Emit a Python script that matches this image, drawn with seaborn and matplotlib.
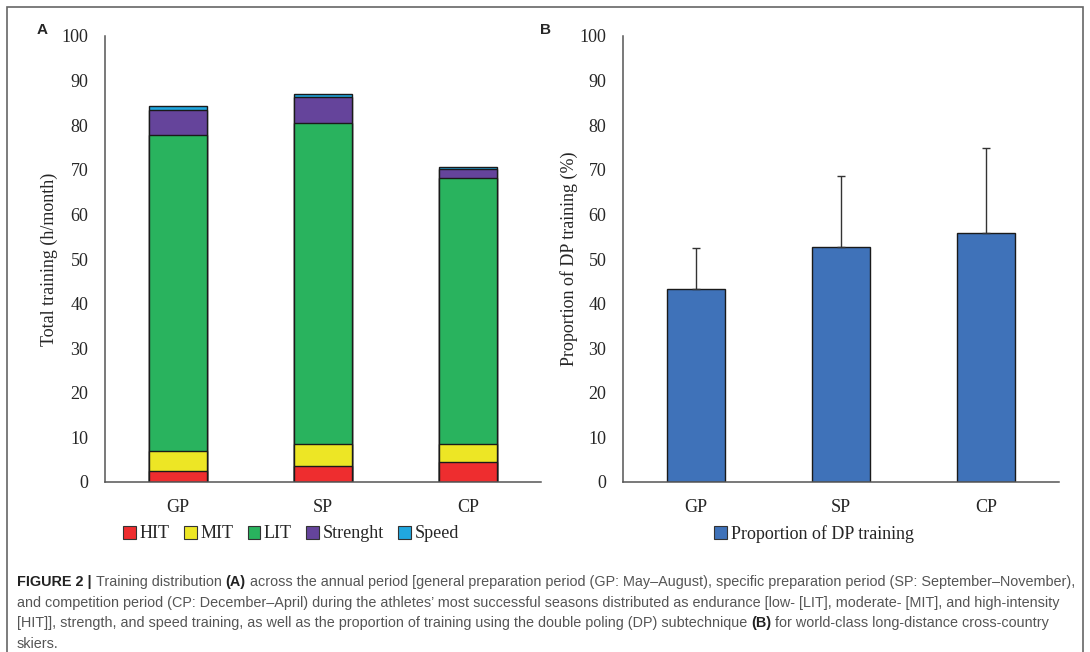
import matplotlib
matplotlib.use("Agg")
import matplotlib.pyplot as plt
import matplotlib.patches as mpatches
import numpy as np
import seaborn as sns

# ---- data -------------------------------------------------------------
periods = ["GP", "SP", "CP"]
components = ["HIT", "MIT", "LIT", "Strenght", "Speed"]
hit = [2.5, 3.5, 4.5]
mit = [4.4, 5.0, 4.1]
lit = [70.9, 72.0, 59.5]
strength = [5.6, 5.8, 2.0]
speed = [0.8, 0.8, 0.6]

dp_mean = [43.2, 52.8, 55.8]
dp_sd = [9.2, 15.9, 19.2]
dp_label = "Proportion of DP training"

yticks = list(range(0, 101, 10))

# ---- style ------------------------------------------------------------
sns.set_theme(style="white")
serif = ["Liberation Serif", "DejaVu Serif"]
cap_family = "Liberation Sans"
plt.rcParams["font.family"] = serif

comp_colors = ["#EE2D2F", "#EDE625", "#29B35E", "#65449B", "#20A7DF"]
dp_color = "#3F72B9"
spine_color = "#555555"
tick_fs = 13

W, H = 1090, 652
fig = plt.figure(figsize=(W / 100, H / 100), dpi=100)

def fx(px):
    return px / W

def fy(py):
    return 1 - py / H

ax_a = fig.add_axes([fx(105), fy(482), fx(436), fy(36) - fy(482)])
ax_b = fig.add_axes([fx(623), fy(482), fx(436), fy(36) - fy(482)])

# ---- panel A: stacked training components -----------------------------
layers = [hit, mit, lit, strength, speed]
cum = np.cumsum(np.array(layers), axis=0)
# draw from the top layer downwards so each lower cumulative bar covers the one above
for i in range(len(layers) - 1, -1, -1):
    sns.barplot(x=periods, y=cum[i], color=comp_colors[i], saturation=1,
                edgecolor="#1a1a1a", linewidth=1.0, width=0.4, ax=ax_a)

# ---- panel B: proportion of double poling -----------------------------
sns.barplot(x=periods, y=dp_mean, color=dp_color, saturation=1,
            edgecolor="#1a1a1a", linewidth=1.0, width=0.4, ax=ax_b)
ax_b.errorbar(x=np.arange(len(periods)), y=dp_mean,
              yerr=[np.zeros(len(periods)), dp_sd], fmt="none",
              ecolor="#333333", elinewidth=1.0, capsize=3, capthick=1.0, zorder=5)

for ax, ylabel in [(ax_a, "Total training (h/month)"),
                   (ax_b, "Proportion of DP training (%)")]:
    ax.set_xlim(-0.5, 2.5)
    ax.set_ylim(0, 100)
    ax.set_yticks(yticks)
    ax.set_yticklabels([str(t) for t in yticks])
    ax.tick_params(axis="y", length=0, pad=12, labelsize=tick_fs)
    ax.tick_params(axis="x", length=0, pad=12, labelsize=tick_fs)
    ax.set_xlabel("")
    ax.set_ylabel(ylabel, fontsize=tick_fs)
    for s in ["top", "right"]:
        ax.spines[s].set_visible(False)
    for s in ["left", "bottom"]:
        ax.spines[s].set_color(spine_color)
        ax.spines[s].set_linewidth(1.1)
    ax.set_facecolor("white")

ax_a.yaxis.set_label_coords((58 - 105) / 436, 0.5)
ax_b.yaxis.set_label_coords((578 - 623) / 436, 0.5)

# ---- legends ----------------------------------------------------------
handles_a = [mpatches.Patch(facecolor=c, edgecolor="#333333", linewidth=0.8, label=n)
             for c, n in zip(comp_colors, components)]
fig.legend(handles=handles_a, loc="center", bbox_to_anchor=(fx(291), fy(534)),
           ncol=5, frameon=False, fontsize=tick_fs, handlelength=0.7,
           handleheight=0.7, handletextpad=0.2, columnspacing=0.8)
handles_b = [mpatches.Patch(facecolor=dp_color, edgecolor="#333333", linewidth=0.8,
                            label=dp_label)]
fig.legend(handles=handles_b, loc="center", bbox_to_anchor=(fx(814), fy(534)),
           ncol=1, frameon=False, fontsize=tick_fs, handlelength=0.7,
           handleheight=0.7, handletextpad=0.2)

# ---- panel letters ----------------------------------------------------
fig.text(fx(37), fy(30), "A", fontsize=11, fontweight="bold",
         family="Liberation Sans", va="center", ha="left")
fig.text(fx(540), fy(30), "B", fontsize=11, fontweight="bold",
         family="Liberation Sans", va="center", ha="left")

# ---- outer frame ------------------------------------------------------
fig.add_artist(mpatches.Rectangle((fx(7), fy(660)), fx(1083 - 7), fy(7) - fy(660),
                                  transform=fig.transFigure, fill=False,
                                  edgecolor="#666666", linewidth=1.2))

# ---- caption ----------------------------------------------------------
cap_gray = "#555555"
cap_dark = "#222222"
renderer = fig.canvas.get_renderer()

caption = [
    [("FIGURE 2 |", "bold", cap_dark), ("Training distribution", "normal", cap_gray),
     ("(A)", "bold", cap_dark),
     ("across the annual period [general preparation period (GP: May\u2013August), "
      "specific preparation period (SP: September\u2013November),", "normal", cap_gray)],
    [("and competition period (CP: December\u2013April) during the athletes\u2019 most "
      "successful seasons distributed as endurance [low- [LIT], moderate- [MIT], and "
      "high-intensity", "normal", cap_gray)],
    [("[HIT]], strength, and speed training, as well as the proportion of training "
      "using the double poling (DP) subtechnique", "normal", cap_gray),
     ("(B)", "bold", cap_dark),
     ("for world-class long-distance cross-country", "normal", cap_gray)],
    [("skiers.", "normal", cap_gray)],
]

def text_width(s, size, weight="normal"):
    t = fig.text(0, 0, s, fontsize=size, family=cap_family, fontweight=weight)
    w = t.get_window_extent(renderer).width
    t.remove()
    return w

def line_width(pieces, size):
    sp = text_width("x x", size) - text_width("xx", size)
    return sum(text_width(s, size, w) for s, w, _ in pieces) + sp * (len(pieces) - 1)

# the first caption line runs from x=17 to x=1075
cap_fs = 10.6
cap_fs *= (1075 - 17) / line_width(caption[0], cap_fs)

def rich_line(pieces, x0, y0, size):
    sp = text_width("x x", size) - text_width("xx", size)
    x = x0
    for s, weight, color in pieces:
        t = fig.text(fx(x), fy(y0), s, fontsize=size, family=cap_family,
                     fontweight=weight, color=color, va="center", ha="left")
        x += t.get_window_extent(renderer).width + sp

for k, line in enumerate(caption):
    rich_line(line, 17, 582 + k * 20.5, cap_fs)

fig.savefig("out.png", dpi=100, facecolor="white")
